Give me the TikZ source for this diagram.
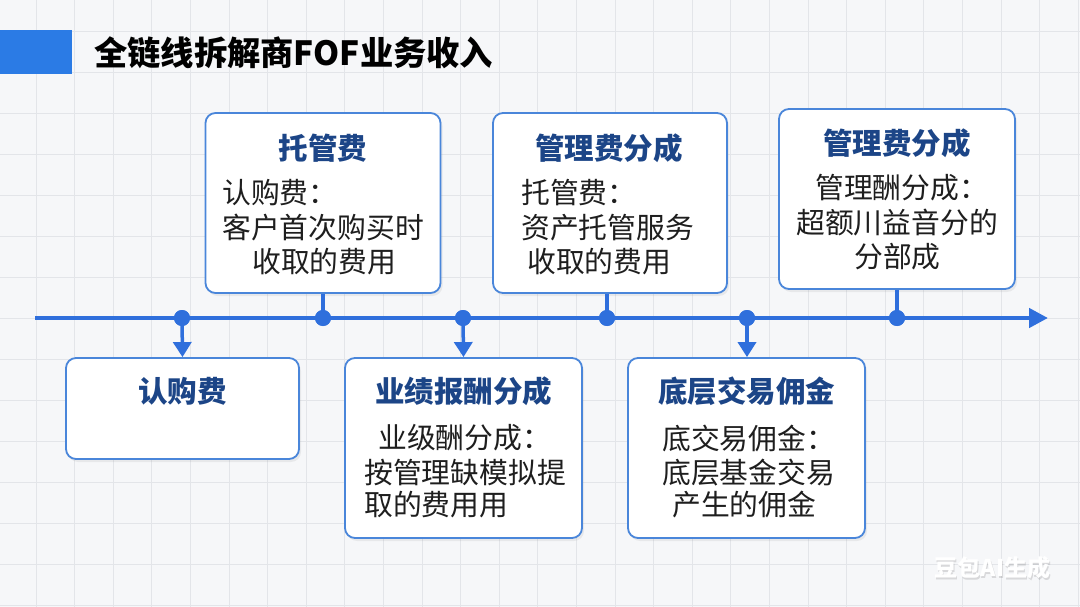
\documentclass[tikz,border=0pt]{standalone}
\usepackage{fontspec}
\setmainfont{Noto Sans CJK SC}
\usetikzlibrary{arrows.meta,shadows}
\definecolor{bg}{HTML}{F6F7F9}
\definecolor{gridc}{HTML}{E3E5E9}
\definecolor{mainblue}{HTML}{2F6FDC}
\definecolor{barblue}{HTML}{2B7BE5}
\definecolor{boxborder}{HTML}{4A86DA}
\definecolor{titlenavy}{HTML}{1C4587}
\definecolor{bodytext}{HTML}{1E1E1E}
\begin{document}
\begin{tikzpicture}[x=1pt,y=-1pt,
  gridline/.style={draw=gridc,line width=0.8pt},
  infobox/.style={draw=boxborder,line width=1.8pt,fill=white,rounded corners=10pt,
     drop shadow={opacity=0.12,shadow xshift=2pt,shadow yshift=-3pt}},
  dotnode/.style={circle,fill=mainblue,inner sep=0pt,minimum size=16pt},
  timeline/.style={draw=mainblue,line width=4.5pt},
  conn/.style={draw=mainblue,line width=3.5pt},
  boxtitle/.style={font=\fontsize{29.5}{32}\selectfont\bfseries,text=titlenavy,inner sep=0pt},
  bodyline/.style={font=\fontsize{28.8}{30}\selectfont,text=bodytext,inner sep=0pt},
]
\useasboundingbox (0,0) rectangle (1080,607);
\fill[bg] (0,0) rectangle (1080,607);
\foreach \i in {0,...,27} {\draw[gridline] (36+38.6*\i,0) -- (36+38.6*\i,607);}
\foreach \j in {0,...,14} {\draw[gridline] (0,31+41*\j) -- (1080,31+41*\j);}

% title
\fill[barblue] (0,30) rectangle (72,74);
\node[anchor=west,inner sep=0pt,font=\fontsize{33.3}{36}\selectfont\bfseries,text=black] (title) at (94,53) {全链线拆解商FOF业务收入};

% timeline
\coordinate (tstart) at (35,318);
\coordinate (tend) at (1048,318);
\draw[timeline,-{Triangle[length=19pt,width=19pt]}] (tstart) -- (tend);

% boxes
\node[infobox,minimum width=235pt,minimum height=180pt] (A) at (323,203) {};
\node[infobox,minimum width=234pt,minimum height=180pt] (B) at (610,203) {};
\node[infobox,minimum width=236pt,minimum height=180pt] (C) at (897,199) {};
\node[infobox,minimum width=233pt,minimum height=101pt] (D) at (182.5,408.5) {};
\node[infobox,minimum width=237pt,minimum height=180pt] (E) at (463.5,448) {};
\node[infobox,minimum width=237pt,minimum height=180pt] (F) at (746.5,448) {};

% dots
\node[dotnode] (d1) at (182,318) {};
\node[dotnode] (d2) at (323,318) {};
\node[dotnode] (d3) at (463,318) {};
\node[dotnode] (d4) at (607,318) {};
\node[dotnode] (d5) at (747,318) {};
\node[dotnode] (d6) at (897,318) {};

% connectors
\draw[conn] (A.south) -- (d2.center);
\draw[conn] (B.south -| d4) -- (d4.center);
\draw[conn] (C.south) -- (d6.center);
\draw[conn,-{Triangle[length=15pt,width=18pt]}] (d1.center) -- (D.north);
\draw[conn,-{Triangle[length=15pt,width=18pt]}] (d3.center) -- (E.north);
\draw[conn,-{Triangle[length=15pt,width=18pt]}] (d5.center) -- (F.north -| d5);
\node[dotnode] at (d1) {};
\node[dotnode] at (d2) {};
\node[dotnode] at (d3) {};
\node[dotnode] at (d4) {};
\node[dotnode] at (d5) {};
\node[dotnode] at (d6) {};

% box A
\node[boxtitle] (At) at (323,148) {托管费};
\node[bodyline,anchor=west] (A1) at (222,193) {认购费：};
\node[bodyline,anchor=west] (A2) at (222,228) {客户首次购买时};
\node[bodyline,anchor=west] (A3) at (252,262) {收取的费用};

% box B
\node[boxtitle] (Bt) at (609,148) {管理费分成};
\node[bodyline,anchor=west] (B1) at (521,193) {托管费：};
\node[bodyline,anchor=west] (B2) at (521,228) {资产托管服务};
\node[bodyline,anchor=west] (B3) at (527,262) {收取的费用};

% box C
\node[boxtitle] (Ct) at (897,143) {管理费分成};
\node[bodyline,anchor=west] (C1) at (815,188) {管理酬分成：};
\node[bodyline,anchor=west] (C2) at (796,223) {超额川益音分的};
\node[bodyline,anchor=west] (C3) at (854,257) {分部成};

% box D
\node[boxtitle] (Dt) at (182.5,391) {认购费};

% box E
\node[boxtitle] (Et) at (463.5,391) {业绩报酬分成};
\node[bodyline,anchor=west] (E1) at (378,438) {业级酬分成：};
\node[bodyline,anchor=west] (E2) at (364,473) {按管理缺模拟提};
\node[bodyline,anchor=west] (E3) at (364,505) {取的费用用};

% box F
\node[boxtitle] (Ft) at (746.5,391) {底层交易佣金};
\node[bodyline,anchor=west] (F1) at (662,438) {底交易佣金：};
\node[bodyline,anchor=west] (F2) at (662,473) {底层基金交易};
\node[bodyline,anchor=west] (F3) at (672,505) {产生的佣金};

% watermark
\node[inner sep=0pt,font=\fontsize{23}{25}\selectfont\bfseries,text=black,opacity=0.12] (wms) at (993.5,569.5) {豆包AI生成};
\node[inner sep=0pt,font=\fontsize{23}{25}\selectfont\bfseries,text=white] (wm) at (992.5,568) {豆包AI生成};
\end{tikzpicture}
\end{document}
